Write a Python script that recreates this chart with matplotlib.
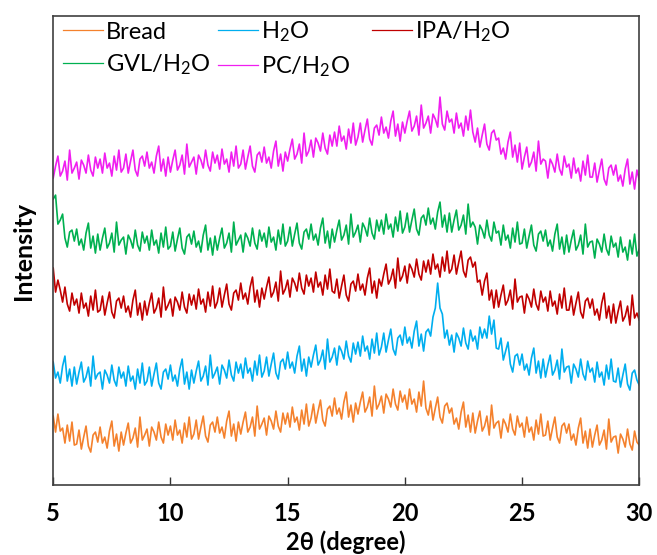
import matplotlib
matplotlib.use('Agg')
import matplotlib.pyplot as plt
import numpy as np

# 2-theta grid, 0.1 degree steps from 5 to 30
two_theta = np.linspace(5.0, 30.0, 251)

# intensities (arbitrary units, curves already stacked)
bread = [69, 53, 71, 54, 57, 42, 60, 44, 63, 40,
         41, 55, 36, 48, 59, 39, 33, 50, 53, 43,
         58, 42, 48, 37, 54, 64, 39, 51, 34, 53,
         40, 52, 62, 42, 47, 57, 38, 68, 45, 50,
         56, 39, 58, 53, 45, 63, 48, 42, 61, 50,
         59, 45, 65, 50, 55, 42, 62, 48, 68, 46,
         51, 65, 46, 58, 69, 49, 43, 60, 63, 53,
         68, 52, 58, 47, 64, 74, 49, 61, 44, 63,
         51, 63, 73, 53, 58, 68, 49, 79, 56, 61,
         67, 50, 69, 64, 56, 74, 59, 53, 72, 61,
         72, 58, 78, 63, 68, 55, 75, 61, 81, 59,
         67, 81, 62, 74, 85, 65, 59, 76, 79, 69,
         87, 71, 77, 66, 83, 93, 68, 80, 63, 82,
         71, 83, 93, 73, 78, 88, 69, 99, 76, 81,
         89, 72, 91, 86, 78, 96, 81, 75, 94, 83,
         90, 76, 96, 81, 86, 73, 93, 79, 104, 77,
         70, 84, 65, 77, 88, 68, 62, 79, 82, 72,
         77, 61, 67, 56, 73, 83, 58, 70, 53, 72,
         52, 64, 74, 54, 59, 69, 50, 80, 57, 62,
         64, 47, 66, 61, 53, 71, 56, 50, 69, 58,
         62, 48, 68, 53, 58, 45, 65, 51, 71, 49,
         50, 64, 45, 57, 68, 48, 42, 59, 62, 52,
         61, 45, 51, 40, 57, 67, 42, 54, 37, 56,
         38, 50, 60, 40, 45, 55, 36, 66, 43, 48,
         49, 32, 51, 46, 38, 56, 41, 35, 54, 43,
         40]
h2o = [123, 107, 113, 102, 119, 129, 104, 116, 99, 118,
       101, 113, 123, 103, 108, 118, 99, 129, 106, 111,
       113, 96, 115, 110, 102, 120, 105, 99, 118, 107,
       113, 99, 119, 104, 109, 96, 116, 102, 122, 100,
       104, 118, 99, 111, 122, 102, 96, 113, 116, 106,
       120, 104, 110, 99, 116, 126, 101, 113, 96, 115,
       102, 114, 124, 104, 109, 119, 100, 130, 107, 112,
       118, 101, 120, 115, 107, 125, 110, 104, 123, 112,
       121, 107, 127, 112, 117, 104, 124, 110, 130, 108,
       114, 128, 109, 121, 132, 112, 106, 123, 126, 116,
       133, 117, 123, 112, 129, 139, 114, 126, 109, 128,
       118, 130, 140, 120, 125, 135, 116, 146, 123, 128,
       137, 120, 139, 134, 126, 144, 129, 123, 142, 131,
       143, 129, 149, 134, 139, 126, 146, 132, 152, 130,
       138, 152, 133, 145, 156, 136, 130, 147, 150, 140,
       158, 142, 148, 137, 154, 164, 139, 151, 134, 153,
       156, 149, 168, 177, 202, 177, 171, 147, 155, 140,
       150, 133, 152, 147, 139, 157, 142, 136, 155, 144,
       149, 136, 158, 147, 156, 147, 169, 151, 165, 137,
       136, 147, 125, 134, 143, 121, 113, 129, 131, 120,
       131, 115, 121, 110, 127, 137, 112, 124, 107, 126,
       108, 120, 130, 110, 115, 125, 106, 136, 113, 118,
       119, 102, 121, 116, 108, 126, 111, 105, 124, 113,
       117, 103, 123, 108, 113, 100, 120, 106, 126, 104,
       103, 117, 98, 110, 121, 101, 95, 112, 115, 105,
       100]
ipa = [217, 193, 205, 195, 183, 198, 181, 174, 192, 180,
       186, 172, 192, 177, 182, 169, 189, 175, 195, 173,
       175, 189, 170, 182, 193, 173, 167, 184, 187, 177,
       189, 173, 179, 168, 185, 195, 170, 182, 165, 184,
       170, 182, 192, 172, 177, 187, 168, 198, 175, 180,
       186, 169, 188, 183, 175, 193, 178, 172, 191, 180,
       190, 176, 196, 181, 186, 173, 193, 179, 199, 177,
       183, 197, 178, 190, 201, 181, 175, 192, 195, 185,
       202, 186, 192, 181, 198, 208, 183, 195, 178, 197,
       186, 198, 208, 188, 193, 203, 184, 214, 191, 196,
       205, 188, 207, 202, 194, 212, 197, 191, 210, 199,
       207, 193, 213, 198, 203, 190, 210, 196, 216, 194,
       192, 206, 187, 199, 210, 190, 184, 201, 204, 194,
       211, 195, 201, 190, 207, 217, 192, 204, 187, 206,
       199, 211, 221, 201, 206, 216, 197, 227, 204, 209,
       219, 202, 221, 216, 208, 226, 211, 205, 224, 213,
       225, 211, 231, 216, 221, 208, 228, 214, 234, 212,
       216, 230, 211, 223, 234, 214, 208, 225, 228, 218,
       223, 203, 205, 190, 204, 212, 185, 195, 177, 195,
       178, 190, 200, 180, 185, 195, 176, 206, 183, 188,
       189, 172, 191, 186, 178, 196, 181, 175, 194, 183,
       188, 174, 194, 179, 184, 171, 191, 177, 197, 175,
       175, 189, 170, 182, 193, 173, 167, 184, 187, 177,
       186, 170, 176, 165, 182, 192, 167, 179, 162, 181,
       162, 174, 184, 164, 169, 179, 160, 190, 167, 172,
       165]
gvl = [286, 290, 261, 265, 271, 247, 238, 253, 255, 244,
       256, 240, 246, 235, 252, 262, 237, 249, 232, 251,
       235, 247, 257, 237, 242, 252, 233, 263, 240, 245,
       248, 231, 250, 245, 237, 255, 240, 234, 253, 242,
       249, 235, 255, 240, 245, 232, 252, 238, 258, 236,
       239, 253, 234, 246, 257, 237, 231, 248, 251, 241,
       254, 238, 244, 233, 250, 260, 235, 247, 230, 249,
       235, 247, 257, 237, 242, 252, 233, 263, 240, 245,
       250, 233, 252, 247, 239, 257, 242, 236, 255, 244,
       252, 238, 258, 243, 248, 235, 255, 241, 261, 239,
       244, 258, 239, 251, 262, 242, 236, 253, 256, 246,
       261, 245, 251, 240, 257, 267, 242, 254, 237, 256,
       243, 255, 265, 245, 250, 260, 241, 271, 248, 253,
       260, 243, 262, 257, 249, 267, 252, 246, 265, 254,
       265, 251, 271, 256, 261, 248, 268, 254, 274, 252,
       258, 272, 253, 265, 276, 256, 250, 267, 270, 260,
       277, 261, 267, 256, 273, 283, 258, 270, 253, 272,
       253, 265, 275, 255, 260, 270, 251, 281, 258, 263,
       258, 241, 260, 255, 247, 265, 250, 244, 263, 252,
       254, 240, 260, 245, 250, 237, 257, 243, 263, 241,
       242, 256, 237, 249, 260, 240, 234, 251, 254, 244,
       255, 239, 245, 234, 251, 261, 236, 248, 231, 250,
       233, 245, 255, 235, 240, 250, 231, 261, 238, 243,
       244, 227, 246, 241, 233, 251, 236, 230, 249, 238,
       242, 228, 248, 233, 238, 225, 245, 231, 251, 229,
       236]
pc = [307, 319, 329, 309, 314, 324, 305, 335, 312, 317,
      323, 306, 325, 320, 312, 330, 315, 309, 328, 317,
      326, 312, 332, 317, 322, 309, 329, 315, 335, 313,
      317, 331, 312, 324, 335, 315, 309, 326, 329, 319,
      333, 317, 323, 312, 329, 339, 314, 326, 309, 328,
      313, 325, 335, 315, 320, 330, 311, 341, 318, 323,
      328, 311, 330, 325, 317, 335, 320, 314, 333, 322,
      330, 316, 336, 321, 326, 313, 333, 319, 339, 317,
      321, 335, 316, 328, 339, 319, 313, 330, 333, 323,
      338, 322, 328, 317, 334, 344, 319, 331, 314, 333,
      324, 336, 346, 326, 331, 341, 322, 352, 329, 334,
      345, 328, 347, 342, 334, 352, 337, 331, 350, 339,
      353, 339, 359, 344, 349, 336, 356, 342, 362, 340,
      348, 362, 343, 355, 366, 346, 340, 357, 360, 350,
      368, 352, 358, 347, 364, 374, 349, 361, 344, 363,
      352, 364, 374, 354, 359, 369, 350, 380, 357, 362,
      369, 352, 371, 366, 358, 388, 361, 355, 374, 363,
      366, 352, 372, 357, 362, 349, 369, 355, 375, 353,
      343, 357, 338, 350, 361, 341, 335, 352, 355, 345,
      347, 331, 337, 326, 343, 353, 328, 340, 323, 342,
      316, 328, 338, 318, 323, 333, 314, 344, 321, 326,
      324, 307, 326, 321, 313, 331, 316, 310, 329, 318,
      321, 307, 327, 312, 317, 304, 324, 310, 330, 308,
      308, 322, 303, 315, 326, 306, 300, 317, 320, 310,
      320, 304, 310, 299, 316, 326, 301, 313, 296, 315,
      305]

labels = ['Bread', 'H$_2$O', 'IPA/H$_2$O', 'GVL/H$_2$O', 'PC/H$_2$O']
colors = ['#F4812D', '#00AEEF', '#C00000', '#00B050', '#F01EF0']
series = [bread, h2o, ipa, gvl, pc]

plt.rcParams['font.family'] = ['Lato', 'DejaVu Sans']
plt.rcParams['mathtext.default'] = 'regular'

fig = plt.figure(figsize=(6.57, 5.55), dpi=100)
ax = fig.add_axes([0.081, 0.126, 0.892, 0.845])

lines = []
for y, lab, c in zip(series, labels, colors):
    ln, = ax.plot(two_theta, y, color=c, lw=1.2, label=lab)
    lines.append(ln)

ax.set_xlim(5, 30)
ax.set_ylim(0, 469)
ax.set_xticks([5, 10, 15, 20, 25, 30])
ax.set_yticks([])
ax.tick_params(axis='x', direction='in', length=6, width=1, pad=12,
               labelsize=17, colors='#333333', labelcolor='black')
for t in ax.get_xticklabels():
    t.set_fontweight('bold')
for s in ax.spines.values():
    s.set_color('#404040')
    s.set_linewidth(1.2)

ax.set_xlabel('2θ (degree)', fontsize=17, fontweight='bold')
ax.xaxis.set_label_coords(0.5, -0.097)
ax.set_ylabel('Intensity', fontsize=18, fontweight='bold', labelpad=13)

# legend fills column by column, so reorder to get row-wise order;
# trailing spaces widen the second column like the original layout
order = [0, 3, 1, 4, 2]
leg_labels = list(labels)
leg_labels[4] = leg_labels[4] + '   '
leg = ax.legend([lines[i] for i in order], [leg_labels[i] for i in order],
                loc='upper left', bbox_to_anchor=(-0.006, 1.02), ncol=3,
                frameon=False, fontsize=17,
                handlelength=1.7, handletextpad=0.12, columnspacing=0.35,
                labelspacing=0.42, borderaxespad=0.15)
for h in leg.get_lines():
    h.set_linewidth(0.9)

fig.savefig('out.png', dpi=100)
